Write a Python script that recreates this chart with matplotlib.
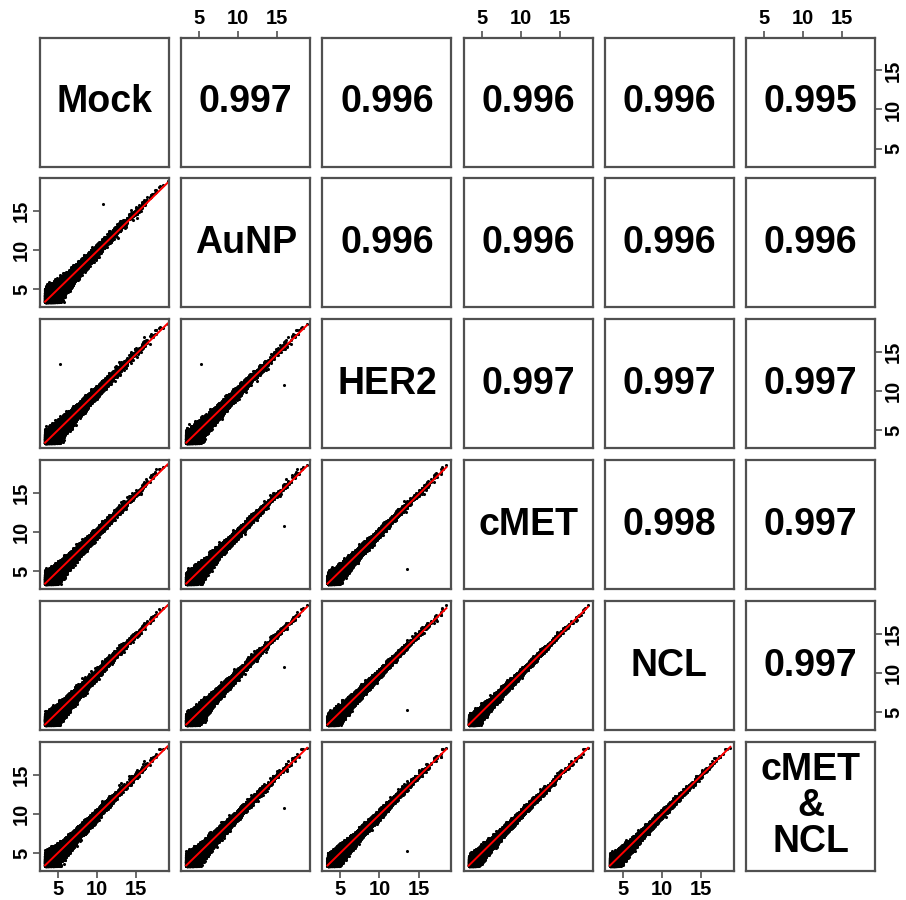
import numpy as np
import matplotlib
matplotlib.use("Agg")
import matplotlib.pyplot as plt

plt.rcParams['font.family'] = ['Liberation Sans', 'DejaVu Sans']

# Sample names shown on the diagonal
samples = ["Mock", "AuNP", "HER2", "cMET", "NCL", "cMET\n&\nNCL"]

# Pairwise Pearson correlations shown in the upper triangle (row, col)
corr_pairs = [(0, 1), (0, 2), (0, 3), (0, 4), (0, 5),
              (1, 2), (1, 3), (1, 4), (1, 5),
              (2, 3), (2, 4), (2, 5),
              (3, 4), (3, 5),
              (4, 5)]
corr_values = [0.997, 0.996, 0.996, 0.996, 0.995,
               0.996, 0.996, 0.996, 0.996,
               0.997, 0.997, 0.997,
               0.998, 0.997,
               0.997]

# Axis ticks (log2 expression)
tick_values = [5, 10, 15]
axis_limits = (2.7, 19.2)

# Per-sample measurement noise (log2 units) of the expression profiles
sample_noise = [0.30, 0.28, 0.24, 0.18, 0.18, 0.21]
detection_floor = 3.35

# Genes that deviate strongly in a single sample (values per sample)
outlier_genes = [
    [10.7, 15.9, 10.8, 10.8, 10.8, 10.8],
    [5.2, 5.2, 13.5, 5.3, 5.3, 5.3],
]

# Simulated microarray expression profiles: a shared gene-level signal
# plus intensity-dependent noise for each sample, folded at the
# background floor of the array
rng = np.random.default_rng(7)
n_genes = 18000
base = 3.5 + rng.gamma(shape=1.6, scale=1.65, size=n_genes)
base = base[base < 18.6]
scale = 0.75 + 1.2 * np.exp(-(base - 3.5) / 2.2)
expr = []
for k, sd in enumerate(sample_noise):
    v = base + rng.normal(0, sd, size=base.size) * scale
    low = v < detection_floor
    v[low] = detection_floor + 0.35 * (detection_floor - v[low])
    v = np.concatenate([v, [g[k] for g in outlier_genes]])
    expr.append(v)

fig = plt.figure(figsize=(9.06, 9.00), dpi=100)
W, H = 906, 900
left0, pitch_x, pw = 40, 141.2, 129
top0, pitch_y, ph = 37.5, 140.9, 129
frame_col = "#505050"
n = len(samples)

for r in range(n):
    for c in range(n):
        x0 = left0 + c * pitch_x
        y0 = top0 + r * pitch_y
        ax = fig.add_axes([x0 / W, (H - y0 - ph) / H, pw / W, ph / H])
        ax.set_xlim(axis_limits)
        ax.set_ylim(axis_limits)
        for s in ax.spines.values():
            s.set_color(frame_col)
            s.set_linewidth(1.6)
        ax.tick_params(which="both", bottom=False, top=False, left=False,
                       right=False, labelbottom=False, labeltop=False,
                       labelleft=False, labelright=False)
        ax.set_xticks(tick_values)
        ax.set_yticks(tick_values)
        tkw = dict(length=5, width=1.2, color=frame_col, pad=1.5,
                   labelsize=14.5, labelcolor="black", direction="out")
        if r == 0 and c % 2 == 1:
            ax.tick_params(axis="x", top=True, labeltop=True, **tkw)
        if r == n - 1 and c % 2 == 0:
            ax.tick_params(axis="x", bottom=True, labelbottom=True, **tkw)
        if c == 0 and r % 2 == 1:
            ax.tick_params(axis="y", left=True, labelleft=True, **tkw)
        if c == n - 1 and r % 2 == 0:
            ax.tick_params(axis="y", right=True, labelright=True, **tkw)
        for lab in ax.get_xticklabels():
            lab.set_fontweight("bold")
        for lab in ax.get_yticklabels():
            lab.set_fontweight("bold")
            lab.set_rotation(90)
            lab.set_verticalalignment("center")

        if r == c:
            ax.text(0.5, 0.5, samples[r], transform=ax.transAxes,
                    ha="center", va="center", fontsize=27,
                    fontweight="bold", linespacing=1.0)
        elif r < c:
            val = corr_values[corr_pairs.index((r, c))]
            ax.text(0.5, 0.5, f"{val:.3f}", transform=ax.transAxes,
                    ha="center", va="center", fontsize=27,
                    fontweight="bold")
        else:
            xv, yv = expr[c], expr[r]
            ax.scatter(xv, yv, s=5, c="black", linewidths=0,
                       rasterized=True)
            slope, icpt = np.polyfit(xv, yv, 1)
            xl = np.array([xv.min(), xv.max()])
            ax.plot(xl, slope * xl + icpt, color="red", lw=1.4)

fig.savefig("out.png", dpi=100)
